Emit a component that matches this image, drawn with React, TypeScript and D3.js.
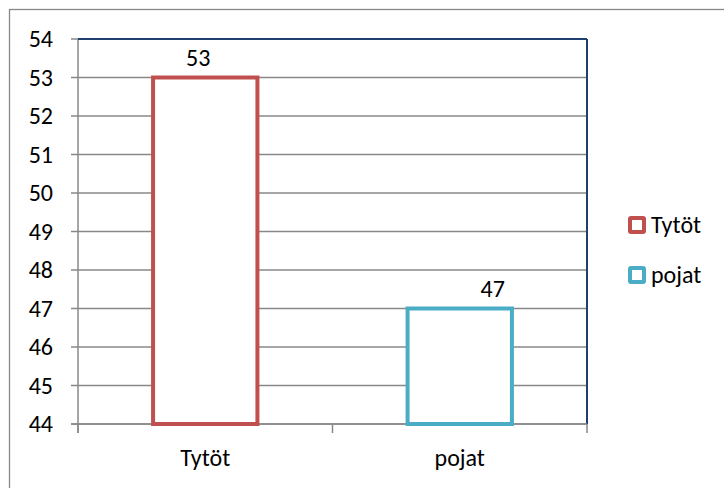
import React from "react";
import * as d3 from "d3";

const categories = ["Tytöt", "pojat"];
const values = [53, 47];
const colors = ["#C0504D", "#4BACC6"];
const labelOffsets = [-7, 33];
const yTicks = [44, 45, 46, 47, 48, 49, 50, 51, 52, 53, 54];

export default function App() {
  const W = 724, H = 488;
  const left = 78, right = 587, top = 39, bottom = 424;
  const x = d3.scaleBand<string>().domain(categories).range([left, right]).paddingInner(0.59).paddingOuter(0.295);
  const y = d3.scaleLinear().domain([44, 54]).range([bottom, top]);
  const font = "Carlito, 'Liberation Sans', Arial, sans-serif";
  const boundaries = [left, (left + right) / 2, right];
  const fs = 24;
  return (
    <svg width={W} height={H} style={{ position: "absolute", left: 0, top: 0, background: "#fff" }} fontFamily={font}>
      <rect x={9.5} y={9.5} width={800} height={600} fill="none" stroke="#888" strokeWidth={1.3} />
      {yTicks.map((t) => (
        <g key={t}>
          <line x1={left - 7} x2={right} y1={y(t)} y2={y(t)} stroke="#888" strokeWidth={1.5} />
          <text x={53} y={y(t)} dy="0.35em" textAnchor="end" fontSize={fs} fill="#000">{t}</text>
        </g>
      ))}
      <line x1={left} x2={left} y1={top} y2={bottom + 9} stroke="#888" strokeWidth={1.5} />
      {boundaries.map((b, i) => (
        <line key={i} x1={b} x2={b} y1={bottom} y2={bottom + 9} stroke="#888" strokeWidth={1.5} />
      ))}
      <line x1={left} x2={right} y1={top} y2={top} stroke="#1F3F6E" strokeWidth={2} />
      <line x1={right} x2={right} y1={top} y2={bottom} stroke="#1F3F6E" strokeWidth={2} />
      <line x1={left - 7} x2={right} y1={bottom} y2={bottom} stroke="#888" strokeWidth={1.5} />
      {categories.map((c, i) => (
        <g key={c}>
          <rect x={x(c)!} y={y(values[i])} width={x.bandwidth()} height={y(44) - y(values[i])}
            fill="#fff" stroke={colors[i]} strokeWidth={4} />
          <text x={x(c)! + x.bandwidth() / 2 + labelOffsets[i]} y={y(values[i]) - 20} dy="0.35em" textAnchor="middle" fontSize={fs}>{values[i]}</text>
          <text x={x(c)! + x.bandwidth() / 2} y={458} dy="0.35em" textAnchor="middle" fontSize={fs}>{c}</text>
        </g>
      ))}
      {categories.map((c, i) => (
        <g key={"l" + c} transform={`translate(0, ${225 + i * 50})`}>
          <rect x={630} y={-7} width={14} height={14} fill="#fff" stroke={colors[i]} strokeWidth={4} rx={1} />
          <text x={651} y={0} dy="0.35em" fontSize={fs}>{c}</text>
        </g>
      ))}
    </svg>
  );
}
